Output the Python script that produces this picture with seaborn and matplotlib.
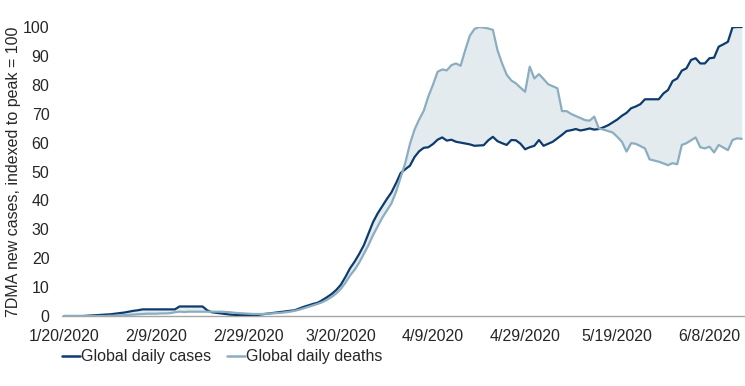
import pandas as pd
import numpy as np
import matplotlib
matplotlib.use("Agg")
import matplotlib.pyplot as plt
import seaborn as sns

# daily series, 1/20/2020 onwards, indexed to peak = 100
cases = [
    0, 0, 0, 0, 0, 0.1, 0.2, 0.3, 0.4, 0.5,
    0.6, 0.8, 1.0, 1.2, 1.5, 1.8, 2.0, 2.3, 2.3, 2.3,
    2.3, 2.3, 2.3, 2.3, 2.3, 3.3, 3.3, 3.3, 3.3, 3.3,
    3.3, 2.0, 1.3, 1.1, 0.9, 0.7, 0.5, 0.4, 0.3, 0.3,
    0.3, 0.3, 0.4, 0.6, 0.8, 1.0, 1.2, 1.4, 1.6, 1.8,
    2.0, 2.6, 3.2, 3.7, 4.2, 4.6, 5.5, 6.5, 7.6, 9.0,
    10.8, 13.5, 16.5, 18.8, 21.5, 24.5, 28.5, 32.5, 35.5, 38.0,
    40.5, 42.8, 46.0, 49.5, 50.8, 52.0, 55.0, 57.0, 58.2, 58.4,
    59.5, 61.0, 61.8, 60.7, 61.0, 60.3, 60.0, 59.7, 59.4, 58.9,
    59.0, 59.1, 60.8, 62.0, 60.5, 59.8, 59.2, 60.9, 60.8, 59.6,
    57.7, 58.4, 58.9, 60.9, 58.9, 59.6, 60.3, 61.5, 62.7, 64.0,
    64.3, 64.7, 64.2, 64.5, 64.9, 64.5, 64.7, 65.3, 66.0, 67.0,
    68.0, 69.3, 70.3, 71.9, 72.5, 73.3, 75.0, 75.0, 75.0, 75.0,
    77.0, 78.2, 81.3, 82.2, 84.9, 85.7, 88.6, 89.2, 87.4, 87.4,
    89.2, 89.4, 93.2, 94.0, 94.9, 99.9, 100, 100,
]
deaths = [
    0, 0, 0, 0, 0, 0, 0, 0, 0, 0,
    0.1, 0.1, 0.2, 0.3, 0.4, 0.5, 0.6, 0.7, 0.8, 0.8,
    0.8, 0.9, 0.9, 1.0, 1.3, 1.5, 1.4, 1.5, 1.5, 1.5,
    1.5, 1.5, 1.5, 1.5, 1.5, 1.4, 1.3, 1.1, 1.0, 0.9,
    0.8, 0.7, 0.7, 0.7, 0.8, 0.9, 1.0, 1.1, 1.3, 1.5,
    1.8, 2.2, 2.7, 3.2, 3.7, 4.2, 4.8, 5.6, 6.6, 7.8,
    9.4, 11.5, 14.0, 16.0, 18.5, 21.5, 24.5, 28.0, 31.0, 34.0,
    36.5, 39.0, 43.0, 48.0, 53.0, 59.5, 64.5, 68.0, 71.0, 76.0,
    80.0, 84.5, 85.3, 85.0, 86.8, 87.4, 86.6, 92.0, 97.0, 99.3,
    100, 99.8, 99.5, 99.0, 92.0, 87.4, 83.5, 81.5, 80.5, 79.0,
    77.6, 86.3, 82.2, 83.7, 82.0, 80.2, 79.5, 78.8, 70.9, 70.9,
    69.9, 69.2, 68.5, 67.8, 67.6, 69.0, 64.9, 64.5, 64.0, 63.5,
    62.0, 60.3, 56.9, 59.8, 59.6, 58.8, 58.0, 54.2, 53.8, 53.4,
    52.8, 52.2, 52.9, 52.5, 59.2, 59.8, 60.8, 61.8, 58.4, 58.0,
    58.6, 56.6, 59.2, 58.3, 57.4, 60.9, 61.5, 61.3,
]
dates = pd.date_range("2020-01-20", periods=len(cases), freq="D")
tick_dates = pd.date_range("2020-01-20", periods=8, freq="20D")
tick_labels = [f"{d.month}/{d.day}/{d.year}" for d in tick_dates]

series_names = ["Global daily cases", "Global daily deaths"]
colors = {"Global daily cases": "#0d3b6e", "Global daily deaths": "#8aaec0"}

df = pd.DataFrame({
    "date": list(dates) * 2,
    "value": cases + deaths,
    "series": [series_names[0]] * len(cases) + [series_names[1]] * len(deaths),
})

sns.set_style("white")
plt.rcParams["font.family"] = ["Liberation Sans", "DejaVu Sans"]

fig = plt.figure(figsize=(7.45, 3.86), dpi=100)
ax = fig.add_axes([0.0832, 0.1813, 0.9155, 0.7487])

ax.fill_between(dates, cases, deaths, color="#e3ebef", linewidth=0, zorder=1)
sns.lineplot(data=df, x="date", y="value", hue="series", palette=colors,
             hue_order=series_names, linewidth=1.6, ax=ax, legend=False, zorder=3)

ax.set_ylim(0, 100)
ax.set_yticks(range(0, 101, 10))
ax.set_xlim(dates[0] - pd.Timedelta(hours=12), dates[-1] + pd.Timedelta(hours=12))
ax.set_xticks(tick_dates)
ax.set_xticklabels(tick_labels)
ax.tick_params(axis="both", labelsize=11.5, colors="#262626", length=0)
ax.tick_params(axis="x", pad=9)
ax.tick_params(axis="y", pad=9)

for side in ["top", "right", "left"]:
    ax.spines[side].set_visible(False)
ax.spines["bottom"].set_color("#a6a6a6")
ax.spines["bottom"].set_linewidth(1.0)

ax.set_xlabel("")
ax.set_ylabel("7DMA new cases, indexed to peak = 100", fontsize=11.5, color="#262626", labelpad=1)

handles = [plt.Line2D([], [], color=colors[n], linewidth=1.8) for n in series_names]
fig.legend(handles, series_names, loc="center left",
           bbox_to_anchor=(62 / 745, (386 - 357) / 386), ncol=2, frameon=False,
           fontsize=11.5, handlelength=1.1, handletextpad=0.1, columnspacing=1.0,
           borderpad=0, borderaxespad=0, labelcolor="#262626")

fig.savefig("out.png", dpi=100)
